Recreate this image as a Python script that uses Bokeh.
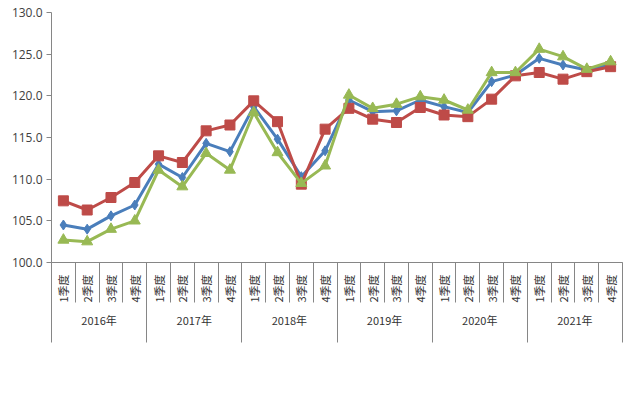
import math
from bokeh.plotting import figure
from bokeh.models import (FactorRange, Range1d, LinearAxis, CategoricalAxis, FixedTicker,
                          Legend, LegendItem, NumeralTickFormatter)
from bokeh.embed import file_html
from bokeh.resources import INLINE

years = ["2016年", "2017年", "2018年", "2019年", "2020年", "2021年"]
quarters = ["1季度", "2季度", "3季度", "4季度"]
y_ticks = [100.0, 105.0, 110.0, 115.0, 120.0, 125.0, 130.0]

confidence = [104.5, 104.0, 105.6, 106.9, 111.8, 110.2, 114.3, 113.3,
              118.7, 114.8, 110.3, 113.4, 119.5, 118.1, 118.2, 119.5,
              118.7, 118.0, 121.7, 122.5, 124.5, 123.7, 123.1, 123.8]
satisfaction = [107.4, 106.3, 107.8, 109.6, 112.8, 112.0, 115.8, 116.5,
                119.4, 116.9, 109.4, 116.0, 118.5, 117.2, 116.8, 118.6,
                117.7, 117.5, 119.6, 122.4, 122.8, 122.0, 122.9, 123.5]
expectation = [102.7, 102.5, 104.0, 105.0, 111.1, 109.1, 113.1, 111.1,
               118.0, 113.2, 109.5, 111.6, 120.1, 118.5, 119.0, 119.9,
               119.5, 118.3, 122.8, 122.8, 125.6, 124.7, 123.2, 124.1]

names = ["消费者信心指数", "消费者满意指数", "消费者预期指数"]
colors = ["#4A7EBB", "#BE4B48", "#98B954"]
markers = ["diamond", "square", "triangle"]
msizes = [10, 10, 11]

factors = [(y, q) for y in years for q in quarters]

CJK = "Noto Sans CJK SC"
AX = "#868686"

p = figure(frame_width=571, frame_height=250,
           x_range=FactorRange(*factors, factor_padding=0, group_padding=0,
                               subgroup_padding=0, range_padding=0),
           y_range=Range1d(y_ticks[0], y_ticks[-1]),
           output_backend="svg", toolbar_location=None,
           x_axis_location=None,
           min_border_left=51, min_border_right=18, min_border_top=12,
           min_border_bottom=0)
p.outline_line_color = None
p.grid.visible = False
p.background_fill_color = "white"
p.border_fill_color = "white"

# y axis
yax = p.yaxis[0]
yax.ticker = FixedTicker(ticks=y_ticks, minor_ticks=[])
yax.formatter = NumeralTickFormatter(format="0.0")
yax.axis_line_color = AX
yax.major_tick_line_color = AX
yax.major_tick_out = 5
yax.major_tick_in = 0
yax.minor_tick_line_color = None
yax.major_label_text_font = "Open Sans"
yax.major_label_text_font_size = "12px"
yax.major_label_text_color = "#404040"
yax.major_label_standoff = 4

# separator axis (boundaries between categories / years), in the factor range's synthetic units
n = len(factors)
year_edges = [i * len(quarters) for i in range(len(years) + 1)]
sep = LinearAxis(ticker=FixedTicker(ticks=year_edges, minor_ticks=list(range(n + 1))))
sep.axis_line_color = AX
sep.major_tick_line_color = AX
sep.minor_tick_line_color = AX
sep.major_tick_out = 0
sep.major_tick_in = -80
sep.minor_tick_out = 0
sep.minor_tick_in = -40
sep.major_label_overrides = {e: "" for e in year_edges}
sep.major_label_standoff = 0
p.add_layout(sep, "below")

# category axis
cat = CategoricalAxis()
cat.axis_line_color = None
cat.major_tick_line_color = None
cat.minor_tick_line_color = None
cat.separator_line_color = None
cat.major_label_orientation = math.pi / 2
cat.major_label_text_font = CJK
cat.major_label_text_font_size = "11px"
cat.major_label_text_color = "#333333"
cat.major_label_standoff = 6
cat.group_text_font = CJK
cat.group_text_font_size = "11px"
cat.group_text_color = "#333333"
cat.group_text_font_style = "normal"
p.add_layout(cat, "below")

items = []
for vals, name, c, m, s in zip([confidence, satisfaction, expectation], names, colors, markers, msizes):
    r1 = p.line(factors, vals, line_color=c, line_width=3, line_join="round")
    r2 = p.scatter(factors, vals, marker=m, size=s, fill_color=c, line_color=c)
    items.append(LegendItem(label=name, renderers=[r1, r2]))

legend = Legend(items=items, orientation="horizontal", location="center")
legend.label_text_font = CJK
legend.label_text_font_size = "15px"
legend.label_text_color = "#333333"
legend.glyph_width = 33
legend.glyph_height = 16
legend.spacing = 7
legend.label_standoff = 5
legend.padding = 0
legend.margin = 0
legend.border_line_color = None
legend.background_fill_alpha = 0
p.add_layout(legend, "below")

open("out.html", "w").write(file_html(p, INLINE))
